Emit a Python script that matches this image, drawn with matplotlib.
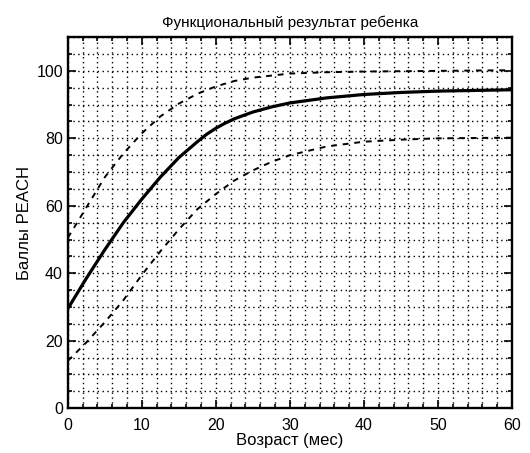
import matplotlib
matplotlib.use("Agg")
import matplotlib.pyplot as plt
from matplotlib.ticker import MultipleLocator

plt.rcParams['font.family'] = ['Liberation Sans', 'DejaVu Sans']

# curves
mean_x = [0, 2.5, 5, 7.5, 10, 12.5, 15, 17.5, 18.75, 20, 21.25, 22.5, 25, 27.5, 30, 35, 40, 45, 50, 55, 60]
mean_y = [29.5, 38.5, 47, 55, 62, 68.5, 74.3, 79, 81.2, 83, 84.5, 85.8, 87.8, 89.3, 90.5, 92, 93, 93.6, 94, 94.2, 94.4]

upper_x = [0, 2.5, 5, 7.5, 10, 12.5, 15, 17.5, 20, 22.5, 25, 30, 35, 40, 50, 60]
upper_y = [50.5, 59.5, 68.5, 75.5, 81.5, 86.5, 90.3, 93.2, 95.4, 97, 98, 99.2, 99.6, 99.8, 100, 100.2]

lower_x = [0, 2.5, 5, 7.5, 10, 12.5, 15, 17.5, 20, 22.5, 25, 27.5, 30, 35, 40, 45, 50, 60]
lower_y = [14, 19.5, 25.5, 32, 39.5, 46.5, 53, 59, 63.5, 67.5, 70.5, 73, 75, 77.6, 79, 79.6, 80, 80.2]

fig = plt.figure(figsize=(5.3, 4.53), dpi=100)
ax = fig.add_axes([0.128, 0.099, 0.838, 0.819])

ax.plot(mean_x, mean_y, color='black', linewidth=2.3)
ax.plot(upper_x, upper_y, color='black', linewidth=1.4, linestyle=(0, (3, 3)))
ax.plot(lower_x, lower_y, color='black', linewidth=1.4, linestyle=(0, (3, 3)))

ax.set_xlim(0, 60)
ax.set_ylim(0, 110)
ax.xaxis.set_major_locator(MultipleLocator(10))
ax.xaxis.set_minor_locator(MultipleLocator(2))
ax.yaxis.set_major_locator(MultipleLocator(20))
ax.yaxis.set_minor_locator(MultipleLocator(5))

ax.grid(which='both', color='black', linestyle=(0, (1, 2.5)), linewidth=1.0)
ax.tick_params(which='both', direction='in', labelsize=11.5, width=1.2,
               top=True, right=True)
ax.tick_params(which='major', length=6)
ax.tick_params(which='minor', length=3)
ax.tick_params(axis='x', pad=7)
for s in ax.spines.values():
    s.set_linewidth(1.7)

ax.set_title("Функциональный результат ребенка", fontsize=11, pad=7)
ax.set_xlabel("Возраст (мес)", fontsize=12, labelpad=0)
ax.set_ylabel("Баллы PEACH", fontsize=12, labelpad=3)

plt.savefig("out.png", dpi=100)
plt.close()
